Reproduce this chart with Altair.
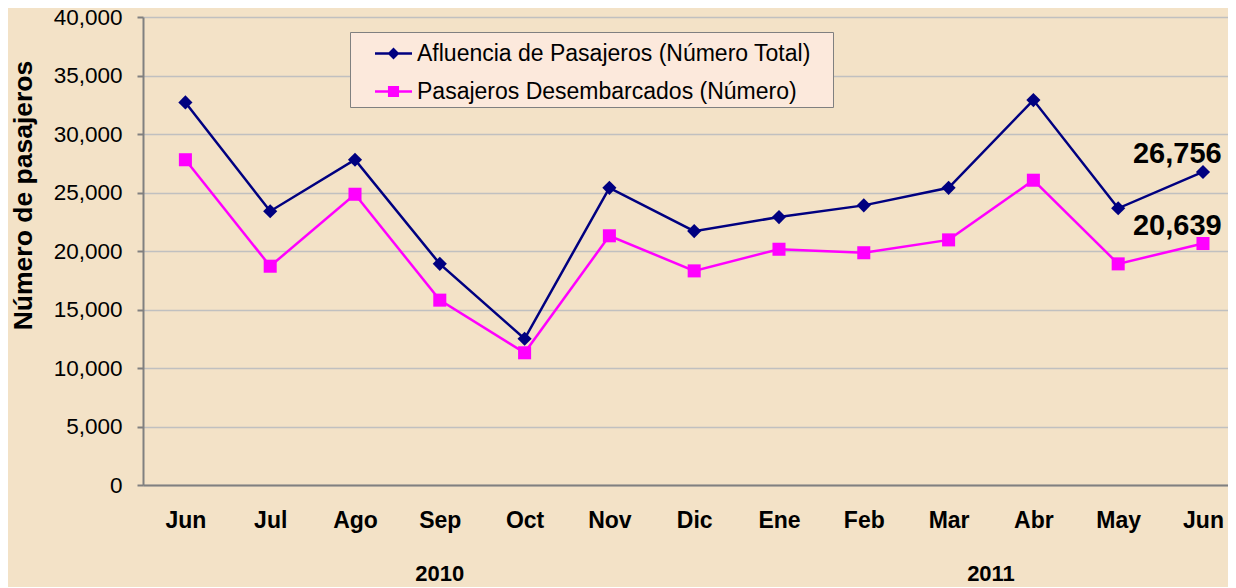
import altair as alt
import pandas as pd

months = ["Jun", "Jul", "Ago", "Sep", "Oct", "Nov", "Dic", "Ene", "Feb", "Mar", "Abr", "May", "Jun"]
years = ["2010"] * 7 + ["2011"] * 6
series_names = ["Afluencia de Pasajeros (Número Total)", "Pasajeros Desembarcados (Número)"]
afluencia = [32700, 23400, 27800, 18900, 12500, 25400, 21700, 22900, 23900, 25400, 32900, 23650, 26756]
desembarcados = [27800, 18700, 24850, 15800, 11300, 21300, 18300, 20150, 19850, 20950, 26050, 18900, 20639]
colors = ["#000080", "#ff00ff"]

rows = []
for s, vals in zip(series_names, [afluencia, desembarcados]):
    for i, (m, yv, v) in enumerate(zip(months, years, vals)):
        rows.append({"idx": i, "month": m, "year": yv, "series": s, "value": v})
df = pd.DataFrame(rows)

FONT = "Liberation Sans"
month_js = "[" + ",".join("'%s'" % m for m in months) + "]"
XDOM = [-0.5, 12.295]

x = alt.X("idx:Q",
          scale=alt.Scale(domain=XDOM, nice=False, zero=False),
          axis=alt.Axis(values=list(range(13)), labelExpr=month_js + "[datum.value]",
                        title=None, grid=False, ticks=False, labelFontSize=23,
                        labelFontWeight="bold", labelFont=FONT, labelColor="black",
                        labelPadding=24, domainColor="#808080", domainWidth=2,
                        labelFlush=False, labelOverlap=False))
y = alt.Y("value:Q",
          scale=alt.Scale(domain=[0, 40000], nice=False),
          axis=alt.Axis(values=list(range(0, 40001, 5000)), format=",.0f",
                        title="Número de pasajeros", titleFont=FONT, titleFontSize=26.5,
                        titleFontWeight="bold", titleColor="black", titleX=-120, titleY=178,
                        titleBaseline="middle", titleAngle=270,
                        labelFontSize=22.5, labelFont=FONT, labelColor="black",
                        labelPadding=15, tickSize=6, tickColor="#808080", tickWidth=2,
                        domainColor="#808080", domainWidth=2,
                        gridColor="#c0c0c0", gridWidth=1.5))

color_sc = alt.Scale(domain=series_names, range=colors)
base = alt.Chart(df)

lines = base.mark_line(strokeWidth=2.5).encode(
    x=x, y=y, color=alt.Color("series:N", scale=color_sc, legend=None))

pts = base.mark_point(filled=True, opacity=1).encode(
    x=x, y=y,
    color=alt.Color("series:N", scale=color_sc, legend=None),
    shape=alt.Shape("series:N", scale=alt.Scale(domain=series_names, range=["diamond", "square"]), legend=None),
    size=alt.Size("series:N", scale=alt.Scale(domain=series_names, range=[200, 170]), legend=None))

p_diamond = "M-1,-0.065L-0.255,-0.065L0,-0.32L0.255,-0.065L1,-0.065L1,0.065L0.255,0.065L0,0.32L-0.255,0.065L-1,0.065Z"
p_square = "M-1,-0.065L-0.3,-0.065L-0.3,-0.3L0.3,-0.3L0.3,-0.065L1,-0.065L1,0.065L0.3,0.065L0.3,0.3L-0.3,0.3L-0.3,0.065L-1,0.065Z"

leg = dict(title=None, orient="none", legendX=207, legendY=15, padding=3,
           fillColor="#fce9dc", strokeColor="#808080", symbolSize=1369,
           symbolOffset=22, symbolStrokeWidth=0, labelOffset=5, rowPadding=7,
           labelFont=FONT, labelFontSize=23, labelColor="black", labelLimit=700,
           labelExpr="datum.label + '\u00a0\u00a0\u00a0\u200b'")

legend_layer = base.mark_point(filled=True, opacity=1).encode(
    x=x, y=y,
    color=alt.Color("series:N", scale=color_sc, legend=alt.Legend(**leg)),
    shape=alt.Shape("series:N", scale=alt.Scale(domain=series_names, range=[p_diamond, p_square]),
                    legend=alt.Legend(**leg)),
).transform_filter("false")

labels = base.mark_text(align="left", baseline="alphabetic", dx=-70, dy=-9,
                        font=FONT, fontSize=29, fontWeight="bold", color="black").encode(
    x=x, y=y, text=alt.Text("value:Q", format=",.0f")
).transform_filter("datum.idx == 12")

year_text = base.mark_text(align="center", baseline="alphabetic", font=FONT, fontSize=22,
                           fontWeight="bold", color="black").encode(
    x=alt.X("mid:Q", scale=alt.Scale(domain=XDOM, nice=False, zero=False)),
    y=alt.value(564),
    text="year:N"
).transform_filter(alt.datum.series == series_names[0]).transform_aggregate(
    mid="mean(idx)", groupby=["year"])

chart = alt.layer(lines, pts, legend_layer, labels, year_text).resolve_scale(
    color="independent", shape="independent", size="independent"
).properties(
    width=1085, height=468,
    autosize=alt.AutoSizeParams(type="none"),
    padding={"left": 135, "top": 9, "right": 0, "bottom": 102},
    background="#f3e2c7"
).configure_view(stroke=None, fill="#f3e2c7")

chart.save("out.html", embed_options={"renderer": "svg", "actions": False})
